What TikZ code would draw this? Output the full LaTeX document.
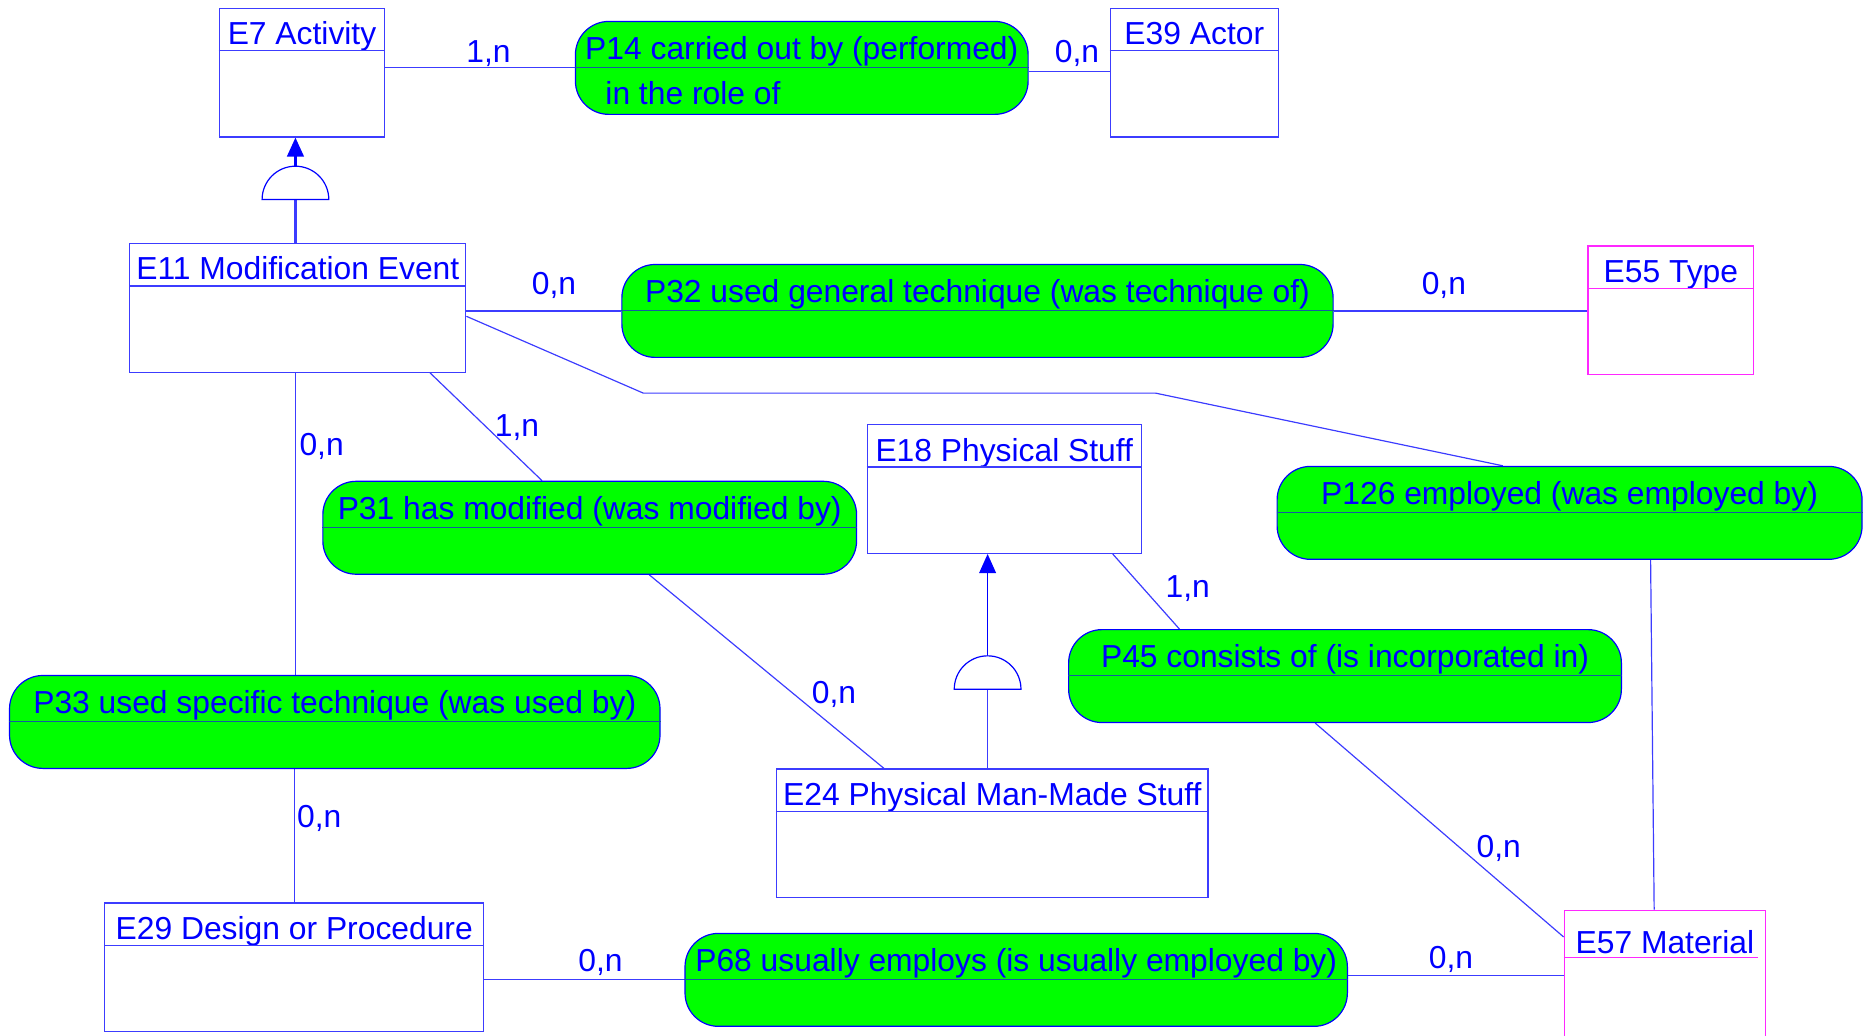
\documentclass[tikz,border=0pt]{standalone}
\usepackage{fontspec}
\setmainfont{Liberation Sans}
\usepackage{tikz}
\usetikzlibrary{shapes.geometric}
\usetikzlibrary{positioning}
\usetikzlibrary{calc}
\usetikzlibrary{arrows.meta}
\pgfdeclarelayer{nodelayer}
\pgfdeclarelayer{edgelayer}
\pgfsetlayers{edgelayer,nodelayer,main}
\definecolor{crmblue}{RGB}{0,0,255}
\definecolor{crmline}{RGB}{60,60,255}
\definecolor{crmpink}{RGB}{255,40,255}
\definecolor{crmgreen}{RGB}{0,255,0}
\definecolor{crmrule}{RGB}{20,90,160}
\newcommand{\crmfont}{\fontsize{26.7}{32}\selectfont}
\tikzset{ebox/.style={fill=white, rectangle, line width=1pt, text=crmblue, font=\crmfont, inner sep=0pt}}
\tikzset{entity/.style={ebox, draw=#1, text height=30.5pt, text depth=77.5pt, append after command={
([yshift=-36pt]\tikzlastnode.north west) edge [draw=#1, line width=1pt] ([yshift=-36pt]\tikzlastnode.north east)
} }, entity/.default=crmline}
\tikzset{material/.style={ebox, draw=crmpink, text height=36.5pt, text depth=71.5pt, append after command={
([yshift=-40pt]\tikzlastnode.north west) edge [draw=crmpink, line width=1pt] ([xshift=-7pt, yshift=-40pt]\tikzlastnode.north east)
} }}
\tikzset{property/.style={draw=crmblue, fill=crmgreen, rectangle, rounded corners=28pt, line width=1pt,
text=crmblue, font=\crmfont, inner sep=0pt, text height=32pt, text depth=46pt, append after command={
([yshift=-39pt]\tikzlastnode.north west) edge [draw=crmrule, line width=1pt] ([yshift=-39pt]\tikzlastnode.north east)
} }}
\tikzset{isa/.style={shape=semicircle, draw=crmblue, fill=white, inner sep=0pt, minimum width=56pt, minimum height=28pt, line width=1pt}}
\tikzset{card/.style={text=crmblue, font=\crmfont, inner sep=0pt}}
\tikzset{link/.style={draw=crmline, line width=1pt}}
\tikzset{isalink/.style={draw=crmblue, line width=1.2pt, -{Triangle[width=14pt,length=16pt]}}}

\begin{document}
\begin{tikzpicture}[x=1pt, y=-1pt]
	\useasboundingbox (0, 0) rectangle (1568, 869);
	\begin{pgfonlayer}{nodelayer}
		\node [style=entity, minimum width=139pt] (0) at (253.5, 61) {E7 Activity};
		\node [style=property, minimum width=380pt] (1) at (673, 57) {P14 carried out by (performed)};
		\node [style=entity, minimum width=141pt] (2) at (1002.5, 61) {E39 Actor};
		\node [style=entity, minimum width=282pt] (3) at (250, 258.5) {E11 Modification Event};
		\node [style=property, minimum width=597pt] (4) at (820.5, 261) {P32 used general technique (was technique of)};
		\node [entity=crmpink, minimum width=139pt] (5) at (1402.5, 260.5) {E55 Type};
		\node [style=entity, minimum width=230pt] (6) at (843, 410.5) {E18 Physical Stuff};
		\node [style=property, minimum width=448pt] (7) at (495, 443) {P31 has modified (was modified by)};
		\node [style=property, minimum width=491pt] (8) at (1317.5, 430.5) {P126 employed (was employed by)};
		\node [style=property, minimum width=464pt] (9) at (1129, 567.5) {P45 consists of (is incorporated in)};
		\node [style=property, minimum width=546pt] (10) at (281, 606) {P33 used specific technique (was used by)};
		\node [style=entity, minimum width=362pt] (11) at (833, 699.5) {E24 Physical Man-Made Stuff};
		\node [style=entity, minimum width=318pt] (12) at (247, 812) {E29 Design or Procedure};
		\node [style=property, minimum width=556pt] (13) at (853, 822.5) {P68 usually employs (is usually employed by)};
		\node [style=material, minimum width=169pt] (14) at (1397.5, 818) {E57 Material};
		\node [style=isa, anchor=chord center] (15) at (248, 168) {};
		\node [style=isa, anchor=chord center] (16) at (829, 579) {};
		\node [style=card, anchor=west] (17) at (508, 78) {in the role of};
		\node [style=card] (18) at (410, 45) {1,n};
		\node [style=card] (19) at (904, 45) {0,n};
		\node [style=card] (20) at (465, 240) {0,n};
		\node [style=card] (21) at (1212, 240) {0,n};
		\node [style=card] (22) at (434, 359) {1,n};
		\node [style=card] (23) at (270, 375) {0,n};
		\node [style=card] (24) at (700, 583) {0,n};
		\node [style=card] (25) at (997, 494) {1,n};
		\node [style=card] (26) at (1258, 712) {0,n};
		\node [style=card] (27) at (268, 687) {0,n};
		\node [style=card] (28) at (504, 808) {0,n};
		\node [style=card] (29) at (1218, 805) {0,n};
		\coordinate (a) at (540, 330);
		\coordinate (b) at (970, 330);
	\end{pgfonlayer}
	\begin{pgfonlayer}{edgelayer}
		\draw [style=link] (0.east |- 1.west) to (1.west);
		\draw [style=link] ([yshift=-3pt]1.east) to ([yshift=-3pt]1.east -| 2.west);
		\draw [style=link] (3.east |- 4.west) to (4.west);
		\draw [style=link] (4.east) to (4.east -| 5.west);
		\draw [style=link] ([yshift=-7pt]3.east) -- (a) -- (b) -- ([xshift=-56pt]8.north);
		\draw [style=link] ([xshift=111pt]3.south) to ([xshift=-40pt]7.north);
		\draw [style=link] ([xshift=-2pt]3.south) to ([xshift=-2pt]3.south |- 10.north);
		\draw [style=link] ([xshift=50pt]7.south) to ([xshift=-91pt]11.north);
		\draw [style=link] ([xshift=91pt]6.south) to ([xshift=-139pt]9.north);
		\draw [style=link] ([xshift=-25pt]9.south) to ([yshift=-23pt]14.north west);
		\draw [style=link] (12.north |- 10.south) to (12.north);
		\draw [style=link] (12.east |- 13.west) to (13.west);
		\draw [style=link] ([yshift=4pt]13.east) to ([yshift=4pt]13.east -| 14.west);
		\draw [style=link] ([xshift=68pt]8.south) to ([xshift=-9pt]14.north);
		\draw [style=link, line width=2pt] (15.chord center) to (15.chord center |- 3.north);
		\draw [style=isalink, line width=2pt] (15.apex) to (15.apex |- 0.south);
		\draw [style=link] (16.chord center) to (16.chord center |- 11.north);
		\draw [style=isalink] (16.apex) to (16.apex |- 6.south);
	\end{pgfonlayer}
\end{tikzpicture}
\end{document}
